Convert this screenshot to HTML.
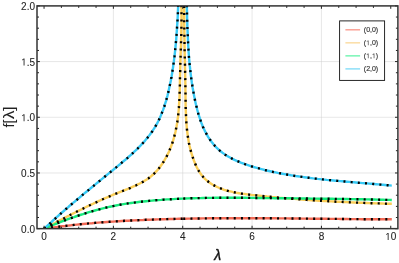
<!DOCTYPE html>
<html><head><meta charset="utf-8"><title>plot</title>
<style>
html,body{margin:0;padding:0;background:#fff;}
body{width:399px;height:263px;overflow:hidden;position:relative;font-family:"Liberation Sans",sans-serif;}
</style></head><body>
<svg width="399" height="263" viewBox="0 0 399 263" style="position:absolute;left:0;top:0;opacity:0.999;will-change:transform"><defs><clipPath id="c"><rect x="37.00" y="5.90" width="360.90" height="222.75"/></clipPath></defs><g stroke="#cfcfcf" stroke-width="0.5" fill="none"><line x1="113.39" y1="5.9" x2="113.39" y2="228.65"/><line x1="182.73" y1="5.9" x2="182.73" y2="228.65"/><line x1="252.07" y1="5.9" x2="252.07" y2="228.65"/><line x1="321.41" y1="5.9" x2="321.41" y2="228.65"/><line x1="37.0" y1="172.97" x2="397.9" y2="172.97"/><line x1="37.0" y1="117.28" x2="397.9" y2="117.28"/><line x1="37.0" y1="61.59" x2="397.9" y2="61.59"/></g><g clip-path="url(#c)" fill="none" stroke-linejoin="round"><path d="M44.0,228.8L47.0,228.3L50.0,227.9L53.0,227.5L56.0,227.1L59.0,226.7L62.0,226.3L65.0,226.0L68.0,225.6L71.0,225.3L74.0,224.9L77.0,224.6L80.0,224.3L83.0,224.0L86.0,223.7L89.0,223.4L92.0,223.2L95.0,222.9L98.0,222.6L101.0,222.4L104.0,222.2L107.0,222.0L110.0,221.8L113.0,221.6L116.0,221.4L119.0,221.2L122.0,221.0L125.0,220.8L128.1,220.7L131.1,220.5L134.1,220.4L137.1,220.2L140.1,220.1L143.1,220.0L146.1,219.8L149.1,219.7L152.1,219.6L155.1,219.5L158.1,219.4L161.1,219.3L164.1,219.2L167.1,219.1L170.1,219.0L173.1,219.0L176.1,218.9L179.1,218.8L182.1,218.8L183.2,218.7" stroke="#F26A56" stroke-width="2.4"/><path d="M183.2,218.7L185.1,218.7L188.1,218.6L191.1,218.6L194.1,218.5L197.1,218.5L200.1,218.5L203.1,218.4L206.1,218.4L209.1,218.3L212.1,218.3L215.1,218.3L218.1,218.3L221.1,218.3L224.1,218.2L227.1,218.2L230.1,218.2L233.1,218.2L236.1,218.2L239.1,218.2L242.1,218.2L245.1,218.2L248.1,218.2L251.1,218.2L254.1,218.2L257.1,218.2L260.1,218.3L263.1,218.3L266.1,218.3L269.1,218.3L272.1,218.3L275.1,218.3L278.1,218.4L281.1,218.4L284.1,218.4L287.1,218.4L290.1,218.5L293.1,218.5L296.1,218.5L299.1,218.5L302.1,218.6L305.1,218.6L308.1,218.6L311.1,218.7L314.1,218.7L317.1,218.7L320.1,218.8L323.1,218.8L326.1,218.8L329.1,218.9L332.1,218.9L335.1,218.9L338.1,218.9L341.1,219.0L344.1,219.0L347.1,219.0L350.1,219.1L353.1,219.1L356.1,219.1L359.1,219.1L362.1,219.2L365.1,219.2L368.1,219.2L371.1,219.2L374.1,219.2L377.1,219.2L380.1,219.3L383.1,219.3L386.1,219.3L389.1,219.3L391.8,219.3" stroke="#F26A56" stroke-width="2.4"/><path d="M44.0,228.6L45.8,227.7L47.7,226.7L49.5,225.8L51.3,224.8L53.1,223.9L54.9,223.0L56.7,222.0L58.5,221.1L60.3,220.1L62.1,219.2L63.9,218.3L65.7,217.3L67.5,216.4L69.3,215.5L71.1,214.5L72.9,213.6L74.7,212.7L76.5,211.8L78.4,210.9L80.2,210.0L82.0,209.1L83.8,208.2L85.6,207.3L87.4,206.4L89.3,205.5L91.1,204.6L92.9,203.8L94.8,202.9L96.6,202.1L98.5,201.2L100.3,200.4L102.2,199.5L104.0,198.7L105.9,197.9L107.8,197.1L109.6,196.3L111.5,195.5L113.4,194.7L115.3,193.9L117.2,193.2L119.1,192.4L121.0,191.6L122.9,190.9L124.8,190.1L126.7,189.3L128.6,188.6L130.5,187.8L132.4,186.9L134.2,186.1L136.1,185.3L137.9,184.4L139.8,183.5L141.6,182.5L143.4,181.6L145.1,180.5L146.8,179.4L148.5,178.3L150.1,177.1L151.6,175.8L153.2,174.5L154.6,173.1L156.0,171.6L157.4,170.1L158.7,168.6L160.0,167.0L161.2,165.3L162.3,163.7L163.4,162.0L164.5,160.2L165.5,158.4L166.5,156.7L167.4,154.9L168.3,153.0L169.2,151.2L169.9,149.3L170.7,147.5L171.4,145.6L172.1,143.7L172.7,141.8L173.3,139.9L173.9,137.9L174.4,136.0L174.9,134.1L175.4,132.1L175.8,130.1L176.2,128.1L176.6,126.2L176.9,124.2L177.3,122.2L177.5,120.1L177.8,118.1L178.1,116.1L178.3,114.1L178.5,112.0L178.7,110.0L178.9,107.9L179.0,105.9L179.1,103.8L179.3,101.8L179.4,99.7L179.5,97.7L179.6,95.6L179.6,93.6L179.7,91.5L179.8,89.4L179.8,87.4L179.9,85.3L179.9,83.2L179.9,81.2L180.0,79.1L180.0,77.1L180.1,75.0L180.1,73.0L180.2,70.9L180.2,68.9L180.3,66.9L180.3,64.8L180.4,62.8L180.4,60.8L180.5,58.8L180.6,56.8L180.6,54.8L180.7,52.7L180.8,50.7L180.8,48.7L180.9,46.7L181.0,44.7L181.0,42.7L181.1,40.7L181.1,38.7L181.2,36.7L181.3,34.6L181.3,32.6L181.3,30.6L181.4,28.6L181.4,26.6L181.5,24.6L181.5,22.5L181.5,20.5L181.5,18.5L181.5,16.4L181.5,14.4L181.5,12.3L181.5,10.3L181.5,8.2L181.4,6.2L181.4,4.1L181.3,2.0L181.3,-0.1" stroke="#FACE58" stroke-width="2.4"/><path d="M184.2,-0.1L184.2,2.5L184.2,5.0L184.2,7.6L184.2,10.1L184.2,12.6L184.2,15.1L184.2,17.6L184.2,20.1L184.2,22.7L184.2,25.2L184.3,27.7L184.3,30.2L184.3,32.7L184.4,35.2L184.4,37.7L184.5,40.2L184.5,42.7L184.5,45.2L184.6,47.7L184.6,50.2L184.7,52.6L184.7,55.1L184.8,57.6L184.9,60.1L184.9,62.6L185.0,65.1L185.0,67.6L185.1,70.1L185.1,72.6L185.2,75.1L185.2,77.6L185.3,80.1L185.3,82.6L185.4,85.2L185.4,87.7L185.4,90.2L185.5,92.7L185.5,95.2L185.5,97.8L185.6,100.3L185.6,102.8L185.6,105.3L185.7,107.9L185.8,110.4L185.9,112.9L186.0,115.5L186.1,118.0L186.2,120.5L186.4,123.0L186.6,125.5L186.8,128.0L187.1,130.5L187.4,133.0L187.7,135.5L188.1,138.0L188.5,140.4L188.9,142.9L189.4,145.3L190.0,147.8L190.6,150.2L191.3,152.6L192.0,155.0L192.8,157.4L193.6,159.8L194.5,162.1L195.5,164.4L196.5,166.7L197.7,169.0L198.9,171.1L200.3,173.2L201.7,175.2L203.3,177.1L205.0,178.8L206.8,180.5L208.7,182.0L210.8,183.4L212.8,184.7L215.0,185.9L217.2,187.0L219.5,188.0L221.8,188.9L224.2,189.8L226.6,190.5L229.0,191.1L231.5,191.7L233.9,192.3L236.4,192.8L239.0,193.2L241.5,193.6L244.0,193.9L246.6,194.3L249.1,194.6L251.7,194.9L254.2,195.1L256.8,195.4L259.3,195.7L261.8,196.0L264.4,196.2L266.9,196.5L269.4,196.7L271.9,197.0L274.4,197.2L276.9,197.4L279.4,197.7L281.9,197.9L284.4,198.1L286.9,198.3L289.4,198.5L291.9,198.7L294.3,198.9L296.8,199.1L299.3,199.3L301.8,199.5L304.2,199.7L306.7,199.9L309.2,200.0L311.7,200.2L314.1,200.4L316.6,200.5L319.1,200.7L321.5,200.8L324.0,201.0L326.5,201.1L328.9,201.3L331.4,201.4L333.9,201.5L336.4,201.7L338.9,201.8L341.3,201.9L343.8,202.0L346.3,202.1L348.8,202.3L351.3,202.4L353.8,202.5L356.3,202.6L358.8,202.7L361.3,202.8L363.8,202.9L366.3,203.0L368.9,203.1L371.4,203.2L373.9,203.3L376.5,203.4L379.0,203.4L381.5,203.5L384.1,203.6L386.7,203.7L389.2,203.8L391.8,203.8" stroke="#FACE58" stroke-width="2.4"/><path d="M44.0,228.7L47.0,227.5L50.0,226.2L53.0,225.0L56.0,223.8L59.0,222.6L62.0,221.4L65.0,220.3L68.0,219.2L71.0,218.1L74.0,217.1L77.0,216.0L80.0,215.0L83.0,214.1L86.0,213.1L89.0,212.2L92.0,211.3L95.0,210.5L98.0,209.7L101.0,208.9L104.0,208.1L107.0,207.4L110.0,206.7L113.0,206.1L116.0,205.5L119.0,204.9L122.0,204.4L125.0,203.9L128.1,203.4L131.1,203.0L134.1,202.6L137.1,202.2L140.1,201.8L143.1,201.5L146.1,201.2L149.1,200.9L152.1,200.6L155.1,200.3L158.1,200.1L161.1,199.9L164.1,199.6L167.1,199.4L170.1,199.3L173.1,199.1L176.1,198.9L179.1,198.8L182.1,198.6L183.2,198.6" stroke="#16EB7C" stroke-width="2.4"/><path d="M183.2,198.6L185.1,198.5L188.1,198.4L191.1,198.3L194.1,198.2L197.1,198.1L200.1,198.1L203.1,198.0L206.1,197.9L209.1,197.9L212.1,197.9L215.1,197.8L218.1,197.8L221.1,197.8L224.1,197.8L227.1,197.8L230.1,197.8L233.1,197.8L236.1,197.8L239.1,197.8L242.1,197.8L245.1,197.8L248.1,197.9L251.1,197.9L254.1,197.9L257.1,198.0L260.1,198.0L263.1,198.0L266.1,198.1L269.1,198.1L272.1,198.1L275.1,198.2L278.1,198.2L281.1,198.2L284.1,198.3L287.1,198.3L290.1,198.3L293.1,198.4L296.1,198.4L299.1,198.4L302.1,198.5L305.1,198.5L308.1,198.5L311.1,198.6L314.1,198.6L317.1,198.6L320.1,198.7L323.1,198.7L326.1,198.7L329.1,198.8L332.1,198.8L335.1,198.9L338.1,198.9L341.1,198.9L344.1,199.0L347.1,199.0L350.1,199.1L353.1,199.1L356.1,199.2L359.1,199.2L362.1,199.3L365.1,199.4L368.1,199.4L371.1,199.5L374.1,199.5L377.1,199.6L380.1,199.7L383.1,199.8L386.1,199.9L389.1,199.9L391.8,200.0" stroke="#16EB7C" stroke-width="2.4"/><path d="M44.1,228.8L45.5,227.5L46.9,226.2L48.3,224.9L49.7,223.6L51.1,222.3L52.5,221.0L53.9,219.7L55.3,218.5L56.7,217.2L58.1,216.0L59.5,214.7L60.9,213.5L62.3,212.2L63.8,211.0L65.2,209.7L66.6,208.5L68.0,207.3L69.4,206.0L70.9,204.8L72.3,203.6L73.7,202.4L75.2,201.2L76.6,200.0L78.0,198.8L79.5,197.6L80.9,196.3L82.3,195.1L83.8,193.9L85.2,192.7L86.7,191.5L88.1,190.4L89.6,189.2L91.0,188.0L92.5,186.8L93.9,185.6L95.4,184.4L96.8,183.2L98.3,182.0L99.8,180.8L101.2,179.6L102.7,178.4L104.1,177.2L105.6,176.0L107.1,174.8L108.5,173.6L110.0,172.4L111.5,171.2L113.0,170.0L114.4,168.8L115.9,167.6L117.4,166.4L118.8,165.2L120.3,164.0L121.8,162.7L123.2,161.5L124.7,160.3L126.2,159.0L127.6,157.8L129.0,156.5L130.4,155.3L131.9,154.0L133.3,152.7L134.6,151.4L136.0,150.1L137.4,148.8L138.7,147.4L140.0,146.1L141.3,144.7L142.6,143.4L143.9,142.0L145.1,140.6L146.3,139.1L147.5,137.7L148.6,136.2L149.8,134.8L150.9,133.3L152.0,131.8L153.0,130.2L154.0,128.7L155.0,127.1L155.9,125.5L156.9,123.9L157.7,122.2L158.6,120.5L159.4,118.9L160.2,117.1L160.9,115.4L161.6,113.7L162.3,111.9L163.0,110.1L163.6,108.4L164.3,106.6L164.8,104.7L165.4,102.9L166.0,101.1L166.5,99.3L167.0,97.4L167.5,95.6L167.9,93.7L168.4,91.9L168.8,90.0L169.2,88.1L169.6,86.3L170.0,84.4L170.4,82.6L170.8,80.7L171.1,78.8L171.5,77.0L171.8,75.1L172.1,73.2L172.4,71.4L172.7,69.5L173.0,67.6L173.2,65.8L173.5,63.9L173.8,62.0L174.0,60.1L174.2,58.3L174.5,56.4L174.7,54.5L174.9,52.7L175.1,50.8L175.3,48.9L175.5,47.1L175.7,45.2L175.8,43.3L176.0,41.5L176.2,39.6L176.3,37.7L176.5,35.8L176.6,34.0L176.7,32.1L176.9,30.2L177.0,28.3L177.1,26.4L177.2,24.6L177.4,22.7L177.5,20.8L177.6,18.9L177.7,17.0L177.8,15.1L177.9,13.3L177.9,11.4L178.0,9.5L178.1,7.6L178.2,5.7L178.3,3.8L178.4,1.9L178.4,-0.0" stroke="#38CAF6" stroke-width="2.4"/><path d="M186.7,-0.0L186.8,2.2L186.8,4.5L186.9,6.7L186.9,9.0L187.0,11.3L187.0,13.5L187.1,15.8L187.1,18.0L187.2,20.3L187.3,22.5L187.3,24.8L187.4,27.0L187.5,29.3L187.6,31.5L187.7,33.8L187.8,36.0L187.9,38.3L188.0,40.5L188.1,42.8L188.2,45.0L188.3,47.3L188.5,49.5L188.6,51.8L188.8,54.0L188.9,56.3L189.1,58.5L189.3,60.7L189.5,63.0L189.7,65.2L190.0,67.4L190.2,69.7L190.5,71.9L190.7,74.1L191.0,76.4L191.3,78.6L191.6,80.8L191.9,83.0L192.3,85.3L192.6,87.5L193.0,89.7L193.4,91.9L193.8,94.1L194.2,96.3L194.7,98.5L195.1,100.7L195.6,102.9L196.1,105.1L196.7,107.3L197.2,109.5L197.8,111.7L198.4,113.9L199.1,116.1L199.8,118.2L200.5,120.4L201.2,122.5L202.1,124.6L202.9,126.7L203.9,128.8L204.8,130.9L205.9,132.9L207.0,134.9L208.1,136.8L209.3,138.7L210.6,140.5L211.9,142.3L213.3,144.1L214.8,145.8L216.3,147.4L217.9,148.9L219.5,150.4L221.2,151.8L223.0,153.1L224.8,154.4L226.7,155.6L228.6,156.7L230.5,157.8L232.5,158.9L234.5,159.9L236.6,160.8L238.7,161.7L240.8,162.6L242.9,163.4L245.0,164.2L247.2,164.9L249.4,165.6L251.5,166.3L253.7,167.0L255.9,167.6L258.1,168.2L260.3,168.8L262.5,169.4L264.7,170.0L266.8,170.5L269.0,171.0L271.2,171.5L273.4,172.0L275.6,172.4L277.8,172.9L280.0,173.3L282.2,173.7L284.4,174.1L286.7,174.5L288.9,174.9L291.1,175.3L293.3,175.6L295.5,176.0L297.7,176.3L300.0,176.6L302.2,176.9L304.4,177.2L306.6,177.5L308.9,177.8L311.1,178.1L313.3,178.4L315.6,178.6L317.8,178.9L320.0,179.1L322.3,179.4L324.5,179.6L326.7,179.9L329.0,180.1L331.2,180.3L333.5,180.5L335.7,180.7L337.9,180.9L340.2,181.1L342.4,181.3L344.7,181.5L346.9,181.7L349.2,181.9L351.4,182.1L353.7,182.3L355.9,182.5L358.2,182.7L360.4,182.9L362.6,183.1L364.9,183.2L367.1,183.4L369.4,183.6L371.6,183.8L373.9,184.0L376.1,184.2L378.4,184.4L380.6,184.6L382.8,184.8L385.1,185.0L387.3,185.2L389.6,185.4L391.8,185.6" stroke="#38CAF6" stroke-width="2.4"/><path d="M44.0,228.8L47.0,228.3L50.0,227.9L53.0,227.5L56.0,227.1L59.0,226.7L62.0,226.3L65.0,226.0L68.0,225.6L71.0,225.3L74.0,224.9L77.0,224.6L80.0,224.3L83.0,224.0L86.0,223.7L89.0,223.4L92.0,223.2L95.0,222.9L98.0,222.6L101.0,222.4L104.0,222.2L107.0,222.0L110.0,221.8L113.0,221.6L116.0,221.4L119.0,221.2L122.0,221.0L125.0,220.8L128.1,220.7L131.1,220.5L134.1,220.4L137.1,220.2L140.1,220.1L143.1,220.0L146.1,219.8L149.1,219.7L152.1,219.6L155.1,219.5L158.1,219.4L161.1,219.3L164.1,219.2L167.1,219.1L170.1,219.0L173.1,219.0L176.1,218.9L179.1,218.8L182.1,218.8L183.2,218.7" stroke="#000" stroke-width="2.4" stroke-dasharray="2.0 5.22" stroke-dashoffset="0.00"/><path d="M183.2,218.7L185.1,218.7L188.1,218.6L191.1,218.6L194.1,218.5L197.1,218.5L200.1,218.5L203.1,218.4L206.1,218.4L209.1,218.3L212.1,218.3L215.1,218.3L218.1,218.3L221.1,218.3L224.1,218.2L227.1,218.2L230.1,218.2L233.1,218.2L236.1,218.2L239.1,218.2L242.1,218.2L245.1,218.2L248.1,218.2L251.1,218.2L254.1,218.2L257.1,218.2L260.1,218.3L263.1,218.3L266.1,218.3L269.1,218.3L272.1,218.3L275.1,218.3L278.1,218.4L281.1,218.4L284.1,218.4L287.1,218.4L290.1,218.5L293.1,218.5L296.1,218.5L299.1,218.5L302.1,218.6L305.1,218.6L308.1,218.6L311.1,218.7L314.1,218.7L317.1,218.7L320.1,218.8L323.1,218.8L326.1,218.8L329.1,218.9L332.1,218.9L335.1,218.9L338.1,218.9L341.1,219.0L344.1,219.0L347.1,219.0L350.1,219.1L353.1,219.1L356.1,219.1L359.1,219.1L362.1,219.2L365.1,219.2L368.1,219.2L371.1,219.2L374.1,219.2L377.1,219.2L380.1,219.3L383.1,219.3L386.1,219.3L389.1,219.3L391.8,219.3" stroke="#000" stroke-width="2.4" stroke-dasharray="2.0 5.22" stroke-dashoffset="0.00"/><path d="M44.0,228.6L45.8,227.7L47.7,226.7L49.5,225.8L51.3,224.8L53.1,223.9L54.9,223.0L56.7,222.0L58.5,221.1L60.3,220.1L62.1,219.2L63.9,218.3L65.7,217.3L67.5,216.4L69.3,215.5L71.1,214.5L72.9,213.6L74.7,212.7L76.5,211.8L78.4,210.9L80.2,210.0L82.0,209.1L83.8,208.2L85.6,207.3L87.4,206.4L89.3,205.5L91.1,204.6L92.9,203.8L94.8,202.9L96.6,202.1L98.5,201.2L100.3,200.4L102.2,199.5L104.0,198.7L105.9,197.9L107.8,197.1L109.6,196.3L111.5,195.5L113.4,194.7L115.3,193.9L117.2,193.2L119.1,192.4L121.0,191.6L122.9,190.9L124.8,190.1L126.7,189.3L128.6,188.6L130.5,187.8L132.4,186.9L134.2,186.1L136.1,185.3L137.9,184.4L139.8,183.5L141.6,182.5L143.4,181.6L145.1,180.5L146.8,179.4L148.5,178.3L150.1,177.1L151.6,175.8L153.2,174.5L154.6,173.1L156.0,171.6L157.4,170.1L158.7,168.6L160.0,167.0L161.2,165.3L162.3,163.7L163.4,162.0L164.5,160.2L165.5,158.4L166.5,156.7L167.4,154.9L168.3,153.0L169.2,151.2L169.9,149.3L170.7,147.5L171.4,145.6L172.1,143.7L172.7,141.8L173.3,139.9L173.9,137.9L174.4,136.0L174.9,134.1L175.4,132.1L175.8,130.1L176.2,128.1L176.6,126.2L176.9,124.2L177.3,122.2L177.5,120.1L177.8,118.1L178.1,116.1L178.3,114.1L178.5,112.0L178.7,110.0L178.9,107.9L179.0,105.9L179.1,103.8L179.3,101.8L179.4,99.7L179.5,97.7L179.6,95.6L179.6,93.6L179.7,91.5L179.8,89.4L179.8,87.4L179.9,85.3L179.9,83.2L179.9,81.2L180.0,79.1L180.0,77.1L180.1,75.0L180.1,73.0L180.2,70.9L180.2,68.9L180.3,66.9L180.3,64.8L180.4,62.8L180.4,60.8L180.5,58.8L180.6,56.8L180.6,54.8L180.7,52.7L180.8,50.7L180.8,48.7L180.9,46.7L181.0,44.7L181.0,42.7L181.1,40.7L181.1,38.7L181.2,36.7L181.3,34.6L181.3,32.6L181.3,30.6L181.4,28.6L181.4,26.6L181.5,24.6L181.5,22.5L181.5,20.5L181.5,18.5L181.5,16.4L181.5,14.4L181.5,12.3L181.5,10.3L181.5,8.2L181.4,6.2L181.4,4.1L181.3,2.0L181.3,-0.1" stroke="#000" stroke-width="2.4" stroke-dasharray="2.0 5.22" stroke-dashoffset="0.00"/><path d="M184.2,-0.1L184.2,2.5L184.2,5.0L184.2,7.6L184.2,10.1L184.2,12.6L184.2,15.1L184.2,17.6L184.2,20.1L184.2,22.7L184.2,25.2L184.3,27.7L184.3,30.2L184.3,32.7L184.4,35.2L184.4,37.7L184.5,40.2L184.5,42.7L184.5,45.2L184.6,47.7L184.6,50.2L184.7,52.6L184.7,55.1L184.8,57.6L184.9,60.1L184.9,62.6L185.0,65.1L185.0,67.6L185.1,70.1L185.1,72.6L185.2,75.1L185.2,77.6L185.3,80.1L185.3,82.6L185.4,85.2L185.4,87.7L185.4,90.2L185.5,92.7L185.5,95.2L185.5,97.8L185.6,100.3L185.6,102.8L185.6,105.3L185.7,107.9L185.8,110.4L185.9,112.9L186.0,115.5L186.1,118.0L186.2,120.5L186.4,123.0L186.6,125.5L186.8,128.0L187.1,130.5L187.4,133.0L187.7,135.5L188.1,138.0L188.5,140.4L188.9,142.9L189.4,145.3L190.0,147.8L190.6,150.2L191.3,152.6L192.0,155.0L192.8,157.4L193.6,159.8L194.5,162.1L195.5,164.4L196.5,166.7L197.7,169.0L198.9,171.1L200.3,173.2L201.7,175.2L203.3,177.1L205.0,178.8L206.8,180.5L208.7,182.0L210.8,183.4L212.8,184.7L215.0,185.9L217.2,187.0L219.5,188.0L221.8,188.9L224.2,189.8L226.6,190.5L229.0,191.1L231.5,191.7L233.9,192.3L236.4,192.8L239.0,193.2L241.5,193.6L244.0,193.9L246.6,194.3L249.1,194.6L251.7,194.9L254.2,195.1L256.8,195.4L259.3,195.7L261.8,196.0L264.4,196.2L266.9,196.5L269.4,196.7L271.9,197.0L274.4,197.2L276.9,197.4L279.4,197.7L281.9,197.9L284.4,198.1L286.9,198.3L289.4,198.5L291.9,198.7L294.3,198.9L296.8,199.1L299.3,199.3L301.8,199.5L304.2,199.7L306.7,199.9L309.2,200.0L311.7,200.2L314.1,200.4L316.6,200.5L319.1,200.7L321.5,200.8L324.0,201.0L326.5,201.1L328.9,201.3L331.4,201.4L333.9,201.5L336.4,201.7L338.9,201.8L341.3,201.9L343.8,202.0L346.3,202.1L348.8,202.3L351.3,202.4L353.8,202.5L356.3,202.6L358.8,202.7L361.3,202.8L363.8,202.9L366.3,203.0L368.9,203.1L371.4,203.2L373.9,203.3L376.5,203.4L379.0,203.4L381.5,203.5L384.1,203.6L386.7,203.7L389.2,203.8L391.8,203.8" stroke="#000" stroke-width="2.4" stroke-dasharray="2.0 5.22" stroke-dashoffset="1.22"/><path d="M44.0,228.7L47.0,227.5L50.0,226.2L53.0,225.0L56.0,223.8L59.0,222.6L62.0,221.4L65.0,220.3L68.0,219.2L71.0,218.1L74.0,217.1L77.0,216.0L80.0,215.0L83.0,214.1L86.0,213.1L89.0,212.2L92.0,211.3L95.0,210.5L98.0,209.7L101.0,208.9L104.0,208.1L107.0,207.4L110.0,206.7L113.0,206.1L116.0,205.5L119.0,204.9L122.0,204.4L125.0,203.9L128.1,203.4L131.1,203.0L134.1,202.6L137.1,202.2L140.1,201.8L143.1,201.5L146.1,201.2L149.1,200.9L152.1,200.6L155.1,200.3L158.1,200.1L161.1,199.9L164.1,199.6L167.1,199.4L170.1,199.3L173.1,199.1L176.1,198.9L179.1,198.8L182.1,198.6L183.2,198.6" stroke="#000" stroke-width="2.4" stroke-dasharray="2.0 5.22" stroke-dashoffset="0.00"/><path d="M183.2,198.6L185.1,198.5L188.1,198.4L191.1,198.3L194.1,198.2L197.1,198.1L200.1,198.1L203.1,198.0L206.1,197.9L209.1,197.9L212.1,197.9L215.1,197.8L218.1,197.8L221.1,197.8L224.1,197.8L227.1,197.8L230.1,197.8L233.1,197.8L236.1,197.8L239.1,197.8L242.1,197.8L245.1,197.8L248.1,197.9L251.1,197.9L254.1,197.9L257.1,198.0L260.1,198.0L263.1,198.0L266.1,198.1L269.1,198.1L272.1,198.1L275.1,198.2L278.1,198.2L281.1,198.2L284.1,198.3L287.1,198.3L290.1,198.3L293.1,198.4L296.1,198.4L299.1,198.4L302.1,198.5L305.1,198.5L308.1,198.5L311.1,198.6L314.1,198.6L317.1,198.6L320.1,198.7L323.1,198.7L326.1,198.7L329.1,198.8L332.1,198.8L335.1,198.9L338.1,198.9L341.1,198.9L344.1,199.0L347.1,199.0L350.1,199.1L353.1,199.1L356.1,199.2L359.1,199.2L362.1,199.3L365.1,199.4L368.1,199.4L371.1,199.5L374.1,199.5L377.1,199.6L380.1,199.7L383.1,199.8L386.1,199.9L389.1,199.9L391.8,200.0" stroke="#000" stroke-width="2.4" stroke-dasharray="2.0 5.22" stroke-dashoffset="0.00"/><path d="M44.1,228.8L45.5,227.5L46.9,226.2L48.3,224.9L49.7,223.6L51.1,222.3L52.5,221.0L53.9,219.7L55.3,218.5L56.7,217.2L58.1,216.0L59.5,214.7L60.9,213.5L62.3,212.2L63.8,211.0L65.2,209.7L66.6,208.5L68.0,207.3L69.4,206.0L70.9,204.8L72.3,203.6L73.7,202.4L75.2,201.2L76.6,200.0L78.0,198.8L79.5,197.6L80.9,196.3L82.3,195.1L83.8,193.9L85.2,192.7L86.7,191.5L88.1,190.4L89.6,189.2L91.0,188.0L92.5,186.8L93.9,185.6L95.4,184.4L96.8,183.2L98.3,182.0L99.8,180.8L101.2,179.6L102.7,178.4L104.1,177.2L105.6,176.0L107.1,174.8L108.5,173.6L110.0,172.4L111.5,171.2L113.0,170.0L114.4,168.8L115.9,167.6L117.4,166.4L118.8,165.2L120.3,164.0L121.8,162.7L123.2,161.5L124.7,160.3L126.2,159.0L127.6,157.8L129.0,156.5L130.4,155.3L131.9,154.0L133.3,152.7L134.6,151.4L136.0,150.1L137.4,148.8L138.7,147.4L140.0,146.1L141.3,144.7L142.6,143.4L143.9,142.0L145.1,140.6L146.3,139.1L147.5,137.7L148.6,136.2L149.8,134.8L150.9,133.3L152.0,131.8L153.0,130.2L154.0,128.7L155.0,127.1L155.9,125.5L156.9,123.9L157.7,122.2L158.6,120.5L159.4,118.9L160.2,117.1L160.9,115.4L161.6,113.7L162.3,111.9L163.0,110.1L163.6,108.4L164.3,106.6L164.8,104.7L165.4,102.9L166.0,101.1L166.5,99.3L167.0,97.4L167.5,95.6L167.9,93.7L168.4,91.9L168.8,90.0L169.2,88.1L169.6,86.3L170.0,84.4L170.4,82.6L170.8,80.7L171.1,78.8L171.5,77.0L171.8,75.1L172.1,73.2L172.4,71.4L172.7,69.5L173.0,67.6L173.2,65.8L173.5,63.9L173.8,62.0L174.0,60.1L174.2,58.3L174.5,56.4L174.7,54.5L174.9,52.7L175.1,50.8L175.3,48.9L175.5,47.1L175.7,45.2L175.8,43.3L176.0,41.5L176.2,39.6L176.3,37.7L176.5,35.8L176.6,34.0L176.7,32.1L176.9,30.2L177.0,28.3L177.1,26.4L177.2,24.6L177.4,22.7L177.5,20.8L177.6,18.9L177.7,17.0L177.8,15.1L177.9,13.3L177.9,11.4L178.0,9.5L178.1,7.6L178.2,5.7L178.3,3.8L178.4,1.9L178.4,-0.0" stroke="#000" stroke-width="2.4" stroke-dasharray="2.0 5.22" stroke-dashoffset="0.00"/><path d="M186.7,-0.0L186.8,2.2L186.8,4.5L186.9,6.7L186.9,9.0L187.0,11.3L187.0,13.5L187.1,15.8L187.1,18.0L187.2,20.3L187.3,22.5L187.3,24.8L187.4,27.0L187.5,29.3L187.6,31.5L187.7,33.8L187.8,36.0L187.9,38.3L188.0,40.5L188.1,42.8L188.2,45.0L188.3,47.3L188.5,49.5L188.6,51.8L188.8,54.0L188.9,56.3L189.1,58.5L189.3,60.7L189.5,63.0L189.7,65.2L190.0,67.4L190.2,69.7L190.5,71.9L190.7,74.1L191.0,76.4L191.3,78.6L191.6,80.8L191.9,83.0L192.3,85.3L192.6,87.5L193.0,89.7L193.4,91.9L193.8,94.1L194.2,96.3L194.7,98.5L195.1,100.7L195.6,102.9L196.1,105.1L196.7,107.3L197.2,109.5L197.8,111.7L198.4,113.9L199.1,116.1L199.8,118.2L200.5,120.4L201.2,122.5L202.1,124.6L202.9,126.7L203.9,128.8L204.8,130.9L205.9,132.9L207.0,134.9L208.1,136.8L209.3,138.7L210.6,140.5L211.9,142.3L213.3,144.1L214.8,145.8L216.3,147.4L217.9,148.9L219.5,150.4L221.2,151.8L223.0,153.1L224.8,154.4L226.7,155.6L228.6,156.7L230.5,157.8L232.5,158.9L234.5,159.9L236.6,160.8L238.7,161.7L240.8,162.6L242.9,163.4L245.0,164.2L247.2,164.9L249.4,165.6L251.5,166.3L253.7,167.0L255.9,167.6L258.1,168.2L260.3,168.8L262.5,169.4L264.7,170.0L266.8,170.5L269.0,171.0L271.2,171.5L273.4,172.0L275.6,172.4L277.8,172.9L280.0,173.3L282.2,173.7L284.4,174.1L286.7,174.5L288.9,174.9L291.1,175.3L293.3,175.6L295.5,176.0L297.7,176.3L300.0,176.6L302.2,176.9L304.4,177.2L306.6,177.5L308.9,177.8L311.1,178.1L313.3,178.4L315.6,178.6L317.8,178.9L320.0,179.1L322.3,179.4L324.5,179.6L326.7,179.9L329.0,180.1L331.2,180.3L333.5,180.5L335.7,180.7L337.9,180.9L340.2,181.1L342.4,181.3L344.7,181.5L346.9,181.7L349.2,181.9L351.4,182.1L353.7,182.3L355.9,182.5L358.2,182.7L360.4,182.9L362.6,183.1L364.9,183.2L367.1,183.4L369.4,183.6L371.6,183.8L373.9,184.0L376.1,184.2L378.4,184.4L380.6,184.6L382.8,184.8L385.1,185.0L387.3,185.2L389.6,185.4L391.8,185.6" stroke="#000" stroke-width="2.4" stroke-dasharray="2.0 5.22" stroke-dashoffset="1.87"/></g><g stroke="#222" stroke-width="1.0"><line x1="44.05" y1="228.65" x2="44.05" y2="225.75"/><line x1="44.05" y1="5.9" x2="44.05" y2="8.8"/><line x1="61.38" y1="228.65" x2="61.38" y2="226.65"/><line x1="61.38" y1="5.9" x2="61.38" y2="7.9"/><line x1="78.72" y1="228.65" x2="78.72" y2="226.65"/><line x1="78.72" y1="5.9" x2="78.72" y2="7.9"/><line x1="96.06" y1="228.65" x2="96.06" y2="226.65"/><line x1="96.06" y1="5.9" x2="96.06" y2="7.9"/><line x1="113.39" y1="228.65" x2="113.39" y2="225.75"/><line x1="113.39" y1="5.9" x2="113.39" y2="8.8"/><line x1="130.73" y1="228.65" x2="130.73" y2="226.65"/><line x1="130.73" y1="5.9" x2="130.73" y2="7.9"/><line x1="148.06" y1="228.65" x2="148.06" y2="226.65"/><line x1="148.06" y1="5.9" x2="148.06" y2="7.9"/><line x1="165.39" y1="228.65" x2="165.39" y2="226.65"/><line x1="165.39" y1="5.9" x2="165.39" y2="7.9"/><line x1="182.73" y1="228.65" x2="182.73" y2="225.75"/><line x1="182.73" y1="5.9" x2="182.73" y2="8.8"/><line x1="200.06" y1="228.65" x2="200.06" y2="226.65"/><line x1="200.06" y1="5.9" x2="200.06" y2="7.9"/><line x1="217.40" y1="228.65" x2="217.40" y2="226.65"/><line x1="217.40" y1="5.9" x2="217.40" y2="7.9"/><line x1="234.74" y1="228.65" x2="234.74" y2="226.65"/><line x1="234.74" y1="5.9" x2="234.74" y2="7.9"/><line x1="252.07" y1="228.65" x2="252.07" y2="225.75"/><line x1="252.07" y1="5.9" x2="252.07" y2="8.8"/><line x1="269.41" y1="228.65" x2="269.41" y2="226.65"/><line x1="269.41" y1="5.9" x2="269.41" y2="7.9"/><line x1="286.74" y1="228.65" x2="286.74" y2="226.65"/><line x1="286.74" y1="5.9" x2="286.74" y2="7.9"/><line x1="304.08" y1="228.65" x2="304.08" y2="226.65"/><line x1="304.08" y1="5.9" x2="304.08" y2="7.9"/><line x1="321.41" y1="228.65" x2="321.41" y2="225.75"/><line x1="321.41" y1="5.9" x2="321.41" y2="8.8"/><line x1="338.75" y1="228.65" x2="338.75" y2="226.65"/><line x1="338.75" y1="5.9" x2="338.75" y2="7.9"/><line x1="356.08" y1="228.65" x2="356.08" y2="226.65"/><line x1="356.08" y1="5.9" x2="356.08" y2="7.9"/><line x1="373.42" y1="228.65" x2="373.42" y2="226.65"/><line x1="373.42" y1="5.9" x2="373.42" y2="7.9"/><line x1="390.75" y1="228.65" x2="390.75" y2="225.75"/><line x1="390.75" y1="5.9" x2="390.75" y2="8.8"/><line x1="37.0" y1="228.65" x2="39.9" y2="228.65"/><line x1="397.9" y1="228.65" x2="395.0" y2="228.65"/><line x1="37.0" y1="217.51" x2="39.0" y2="217.51"/><line x1="397.9" y1="217.51" x2="395.9" y2="217.51"/><line x1="37.0" y1="206.38" x2="39.0" y2="206.38"/><line x1="397.9" y1="206.38" x2="395.9" y2="206.38"/><line x1="37.0" y1="195.24" x2="39.0" y2="195.24"/><line x1="397.9" y1="195.24" x2="395.9" y2="195.24"/><line x1="37.0" y1="184.10" x2="39.0" y2="184.10"/><line x1="397.9" y1="184.10" x2="395.9" y2="184.10"/><line x1="37.0" y1="172.97" x2="39.9" y2="172.97"/><line x1="397.9" y1="172.97" x2="395.0" y2="172.97"/><line x1="37.0" y1="161.83" x2="39.0" y2="161.83"/><line x1="397.9" y1="161.83" x2="395.9" y2="161.83"/><line x1="37.0" y1="150.69" x2="39.0" y2="150.69"/><line x1="397.9" y1="150.69" x2="395.9" y2="150.69"/><line x1="37.0" y1="139.55" x2="39.0" y2="139.55"/><line x1="397.9" y1="139.55" x2="395.9" y2="139.55"/><line x1="37.0" y1="128.42" x2="39.0" y2="128.42"/><line x1="397.9" y1="128.42" x2="395.9" y2="128.42"/><line x1="37.0" y1="117.28" x2="39.9" y2="117.28"/><line x1="397.9" y1="117.28" x2="395.0" y2="117.28"/><line x1="37.0" y1="106.14" x2="39.0" y2="106.14"/><line x1="397.9" y1="106.14" x2="395.9" y2="106.14"/><line x1="37.0" y1="95.01" x2="39.0" y2="95.01"/><line x1="397.9" y1="95.01" x2="395.9" y2="95.01"/><line x1="37.0" y1="83.87" x2="39.0" y2="83.87"/><line x1="397.9" y1="83.87" x2="395.9" y2="83.87"/><line x1="37.0" y1="72.73" x2="39.0" y2="72.73"/><line x1="397.9" y1="72.73" x2="395.9" y2="72.73"/><line x1="37.0" y1="61.59" x2="39.9" y2="61.59"/><line x1="397.9" y1="61.59" x2="395.0" y2="61.59"/><line x1="37.0" y1="50.46" x2="39.0" y2="50.46"/><line x1="397.9" y1="50.46" x2="395.9" y2="50.46"/><line x1="37.0" y1="39.32" x2="39.0" y2="39.32"/><line x1="397.9" y1="39.32" x2="395.9" y2="39.32"/><line x1="37.0" y1="28.18" x2="39.0" y2="28.18"/><line x1="397.9" y1="28.18" x2="395.9" y2="28.18"/><line x1="37.0" y1="17.05" x2="39.0" y2="17.05"/><line x1="397.9" y1="17.05" x2="395.9" y2="17.05"/><line x1="37.0" y1="5.91" x2="39.9" y2="5.91"/><line x1="397.9" y1="5.91" x2="395.0" y2="5.91"/></g><rect x="37.0" y="5.9" width="360.9" height="222.75" fill="none" stroke="#333" stroke-width="1.5"/><g font-family="Liberation Sans, sans-serif" font-size="10" fill="#222" stroke="#222" stroke-width="0.08"><text x="41.27" y="240.00">0</text><text x="110.61" y="240.00">2</text><text x="179.95" y="240.00">4</text><text x="249.29" y="240.00">6</text><text x="318.63" y="240.00">8</text><path transform="translate(385.19,240.00) scale(0.00488,-0.00488)" d="M515 0V1237L197 1010V1180L530 1409H696V0Z" stroke="none"/><text x="390.75" y="240.00">0</text><text x="21.10" y="232.55">0.0</text><text x="21.10" y="176.87">0.5</text><path transform="translate(21.10,121.18) scale(0.00488,-0.00488)" d="M515 0V1237L197 1010V1180L530 1409H696V0Z" stroke="none"/><text x="26.66" y="121.18">.0</text><path transform="translate(21.10,65.50) scale(0.00488,-0.00488)" d="M515 0V1237L197 1010V1180L530 1409H696V0Z" stroke="none"/><text x="26.66" y="65.50">.5</text><text x="21.10" y="9.81">2.0</text></g><text x="217.8" y="259.5" text-anchor="middle" font-family="Liberation Sans, sans-serif" font-style="italic" font-size="14" fill="#111" stroke="#111" stroke-width="0.4">λ</text><g transform="translate(14,127.6) rotate(-90)" font-family="Liberation Sans, sans-serif" font-size="14" fill="#222" stroke="#222" stroke-width="0.08"><text x="0" y="0">f</text><text x="4.2" y="0">[</text><text transform="translate(8.5,0) scale(1.2,1)" x="0" y="0">λ</text><text x="16.8" y="0">]</text></g><rect x="339.6" y="20.9" width="45" height="59.5" fill="#fff" stroke="#111" stroke-width="0.9"/><line x1="345.4" y1="29.80" x2="360.1" y2="29.80" stroke="#FA9C90" stroke-width="1.4"/><g font-family="Liberation Sans, sans-serif" font-size="7" fill="#333" stroke="#333" stroke-width="0.15"><text x="363.80" y="32.30">(0,0)</text></g><line x1="345.4" y1="42.83" x2="360.1" y2="42.83" stroke="#FBDB9E" stroke-width="1.4"/><g font-family="Liberation Sans, sans-serif" font-size="7" fill="#333" stroke="#333" stroke-width="0.15"><text x="363.80" y="45.33">(</text><path transform="translate(366.13,45.33) scale(0.00342,-0.00342)" d="M515 0V1237L197 1010V1180L530 1409H696V0Z" stroke="none"/><text x="370.02" y="45.33">,0)</text></g><line x1="345.4" y1="55.86" x2="360.1" y2="55.86" stroke="#6EF5B0" stroke-width="1.4"/><g font-family="Liberation Sans, sans-serif" font-size="7" fill="#333" stroke="#333" stroke-width="0.15"><text x="363.80" y="58.36">(</text><path transform="translate(366.13,58.36) scale(0.00342,-0.00342)" d="M515 0V1237L197 1010V1180L530 1409H696V0Z" stroke="none"/><text x="370.02" y="58.36">,</text><path transform="translate(371.97,58.36) scale(0.00342,-0.00342)" d="M515 0V1237L197 1010V1180L530 1409H696V0Z" stroke="none"/><text x="375.86" y="58.36">)</text></g><line x1="345.4" y1="68.89" x2="360.1" y2="68.89" stroke="#85DDF8" stroke-width="1.4"/><g font-family="Liberation Sans, sans-serif" font-size="7" fill="#333" stroke="#333" stroke-width="0.15"><text x="363.80" y="71.39">(2,0)</text></g></svg>
</body></html>
